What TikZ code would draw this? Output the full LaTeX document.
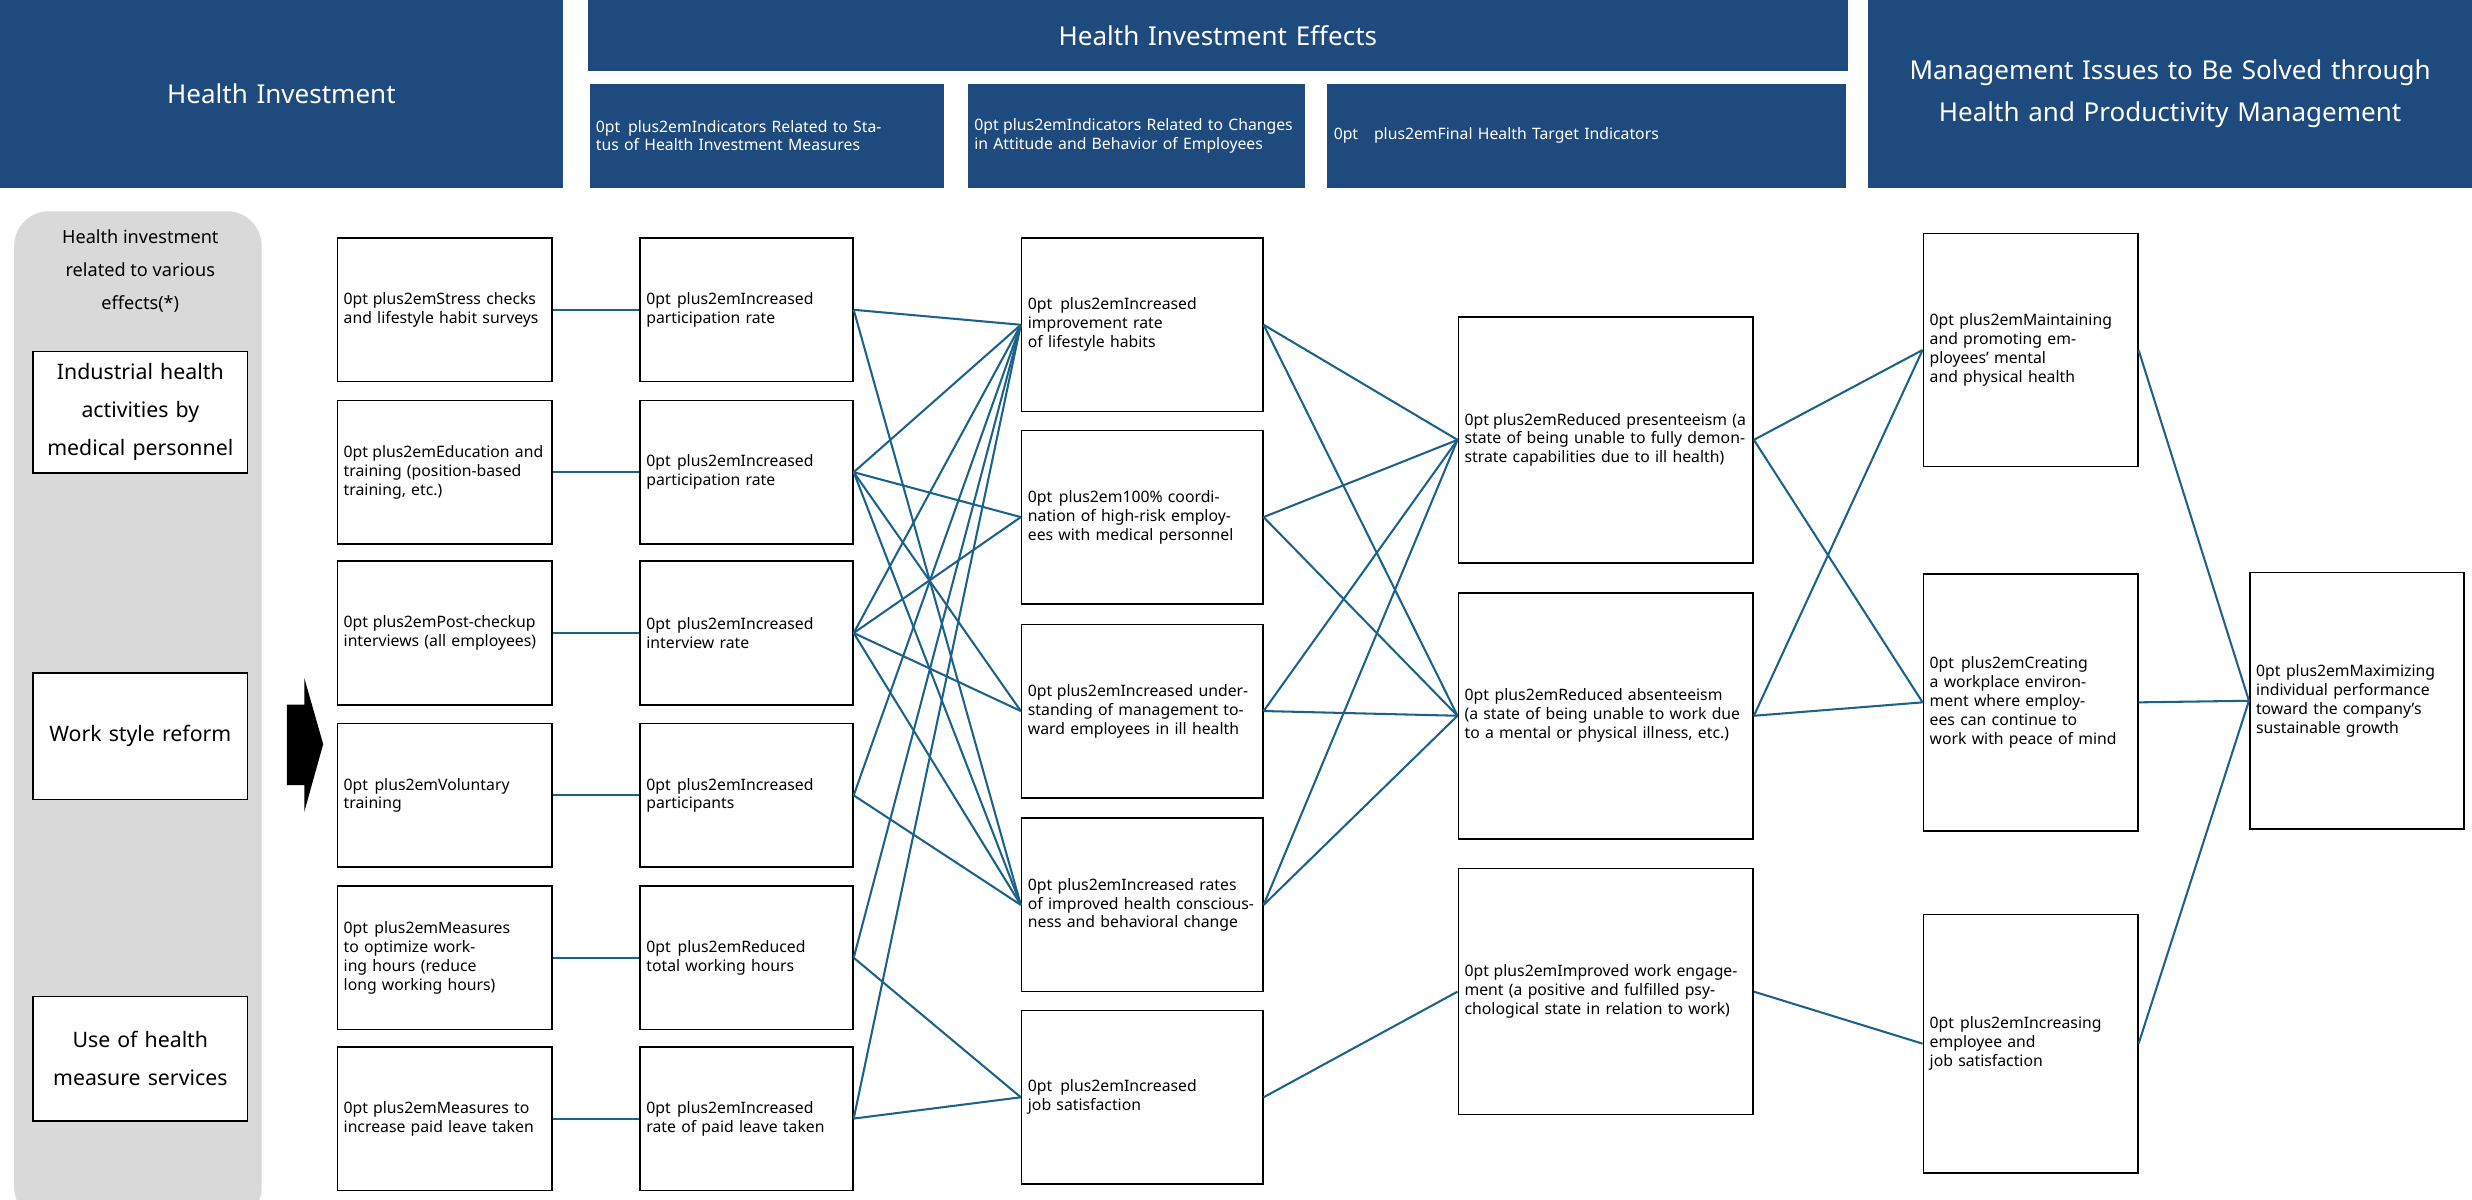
\documentclass[tikz,border=0pt]{standalone}
\usepackage{fontspec}
\setmainfont{Noto Sans}
\usetikzlibrary{shapes.arrows}
% box from corner (x1,y1) to (x2,y2), y counted downwards
\newcommand{\bx}[7][box]{%
  \node[#1, minimum width={(#5-#3)*1pt}, minimum height={(#6-#4)*1pt}, text width={(#5-#3-8)*1pt}]
    (#2) at ({(#3+#5)/2*1pt},{-(#4+#6)/2*1pt}) {#7};}
\begin{document}
\hyphenpenalty=10000 \exhyphenpenalty=10000
\begin{tikzpicture}[x=1pt,y=1pt]
  \definecolor{hdblue}{HTML}{1F4A7E}
  \definecolor{lnblue}{HTML}{1B6189}
  \tikzstyle{box}=[draw=black, line width=1pt, fill=white, align=center, inner sep=0pt, font=\hyphenpenalty=10000\fontsize{11.5}{21}\selectfont]
  \tikzstyle{head}=[fill=hdblue, text=white, align=center, inner sep=0pt, font=\fontsize{16.5}{27}\selectfont]
  \tikzstyle{sub}=[head, font=\hyphenpenalty=10000\fontsize{13.5}{22}\selectfont]
  \tikzstyle{link}=[draw=lnblue, line width=1.3pt]
  \useasboundingbox (0,0) rectangle (1568,-761);

  % headers
  \bx[head]{hInv}{0}{0}{357}{119}{Health Investment}
  \bx[head]{hEff}{373}{0}{1172}{45}{Health Investment Effects}
  \bx[sub]{hStat}{374}{53}{599}{119}{Indicators Related to Status of Health Investment Measures}
  \bx[sub]{hAtt}{614}{53}{828}{119}{Indicators Related to Changes in Attitude and Behavior of Employees}
  \bx[sub]{hFin}{842}{53}{1171}{119}{Final Health Target Indicators}
  \bx[head]{hMgt}{1185}{0}{1568}{119}{Management Issues to Be Solved through Health and Productivity Management}

  % left panel
  \fill[black!15, rounded corners=22] (9,-134) rectangle (166,-775);
  \node[align=center, font=\fontsize{11.5}{21}\selectfont] (rel) at (89,-172) {Health investment\\related to various\\effects(*)};
  \bx[box, font=\fontsize{13.5}{24}\selectfont]{ind}{21}{223}{157}{300}{Industrial health activities by medical personnel}
  \bx[box, font=\fontsize{13.5}{24}\selectfont]{work}{21}{427}{157}{507}{Work style reform}
  \bx[box, font=\fontsize{13.5}{24}\selectfont]{serv}{21}{632}{157}{711}{Use of health measure services}
  \fill (182,-447) -- (193,-447) -- (193,-430) -- (205,-472) -- (193,-515) -- (193,-498) -- (182,-498) -- cycle;

  % measures
  \bx{m1}{214}{151}{350}{242}{Stress checks and lifestyle habit surveys}
  \bx{m2}{214}{254}{350}{345}{Education and training (position-based training, etc.)}
  \bx{m3}{214}{356}{350}{447}{Post-checkup interviews (all employees)}
  \bx{m4}{214}{459}{350}{550}{Voluntary training}
  \bx{m5}{214}{562}{350}{653}{Measures to optimize working hours (reduce long working hours)}
  \bx{m6}{214}{664}{350}{755}{Measures to increase paid leave taken}

  % status indicators
  \bx{s1}{406}{151}{541}{242}{Increased participation rate}
  \bx{s2}{406}{254}{541}{345}{Increased participation rate}
  \bx{s3}{406}{356}{541}{447}{Increased interview rate}
  \bx{s4}{406}{459}{541}{550}{Increased participants}
  \bx{s5}{406}{562}{541}{653}{Reduced total working hours}
  \bx{s6}{406}{664}{541}{755}{Increased rate of paid leave taken}

  % attitude and behaviour
  \bx{a1}{648}{151}{801}{261}{Increased improvement rate of lifestyle habits}
  \bx{a2}{648}{273}{801}{383}{100\% coordination of high-risk employees with medical personnel}
  \bx{a3}{648}{396}{801}{506}{Increased understanding of management toward employees in ill health}
  \bx{a4}{648}{519}{801}{629}{Increased rates of improved health consciousness and behavioral change}
  \bx{a5}{648}{641}{801}{751}{Increased job satisfaction}

  % final targets
  \bx{f1}{925}{201}{1112}{357}{Reduced presenteeism (a state of being unable to fully demonstrate capabilities due to ill health)}
  \bx{f2}{925}{376}{1112}{532}{Reduced absenteeism (a state of being unable to work due to a mental or physical illness, etc.)}
  \bx{f3}{925}{551}{1112}{707}{Improved work engagement (a positive and fulfilled psychological state in relation to work)}

  % management issues
  \bx{g1}{1220}{148}{1356}{296}{Maintaining and promoting employees' mental and physical health}
  \bx{g2}{1220}{364}{1356}{527}{Creating a workplace environment where employees can continue to work with peace of mind}
  \bx{g3}{1220}{580}{1356}{744}{Increasing employee and job satisfaction}
  \bx{top}{1427}{363}{1563}{526}{Maximizing individual performance toward the company's sustainable growth}

  % connectors
  \foreach \i in {1,...,6}
    \draw[link] (m\i.east) -- (s\i.west);
  \foreach \s/\a in {1/1,1/4,2/1,2/2,2/3,2/4,3/1,3/2,3/3,3/4,4/1,4/4,5/1,5/5,6/1,6/5}
    \draw[link] (s\s.east) -- (a\a.west);
  \foreach \a/\f in {1/1,1/2,2/1,2/2,3/1,3/2,4/1,4/2,5/3}
    \draw[link] (a\a.east) -- (f\f.west);
  \foreach \f/\g in {1/1,1/2,2/1,2/2,3/3}
    \draw[link] (f\f.east) -- (g\g.west);
  \foreach \g in {1,2,3}
    \draw[link] (g\g.east) -- (top.west);
\end{tikzpicture}
\end{document}
